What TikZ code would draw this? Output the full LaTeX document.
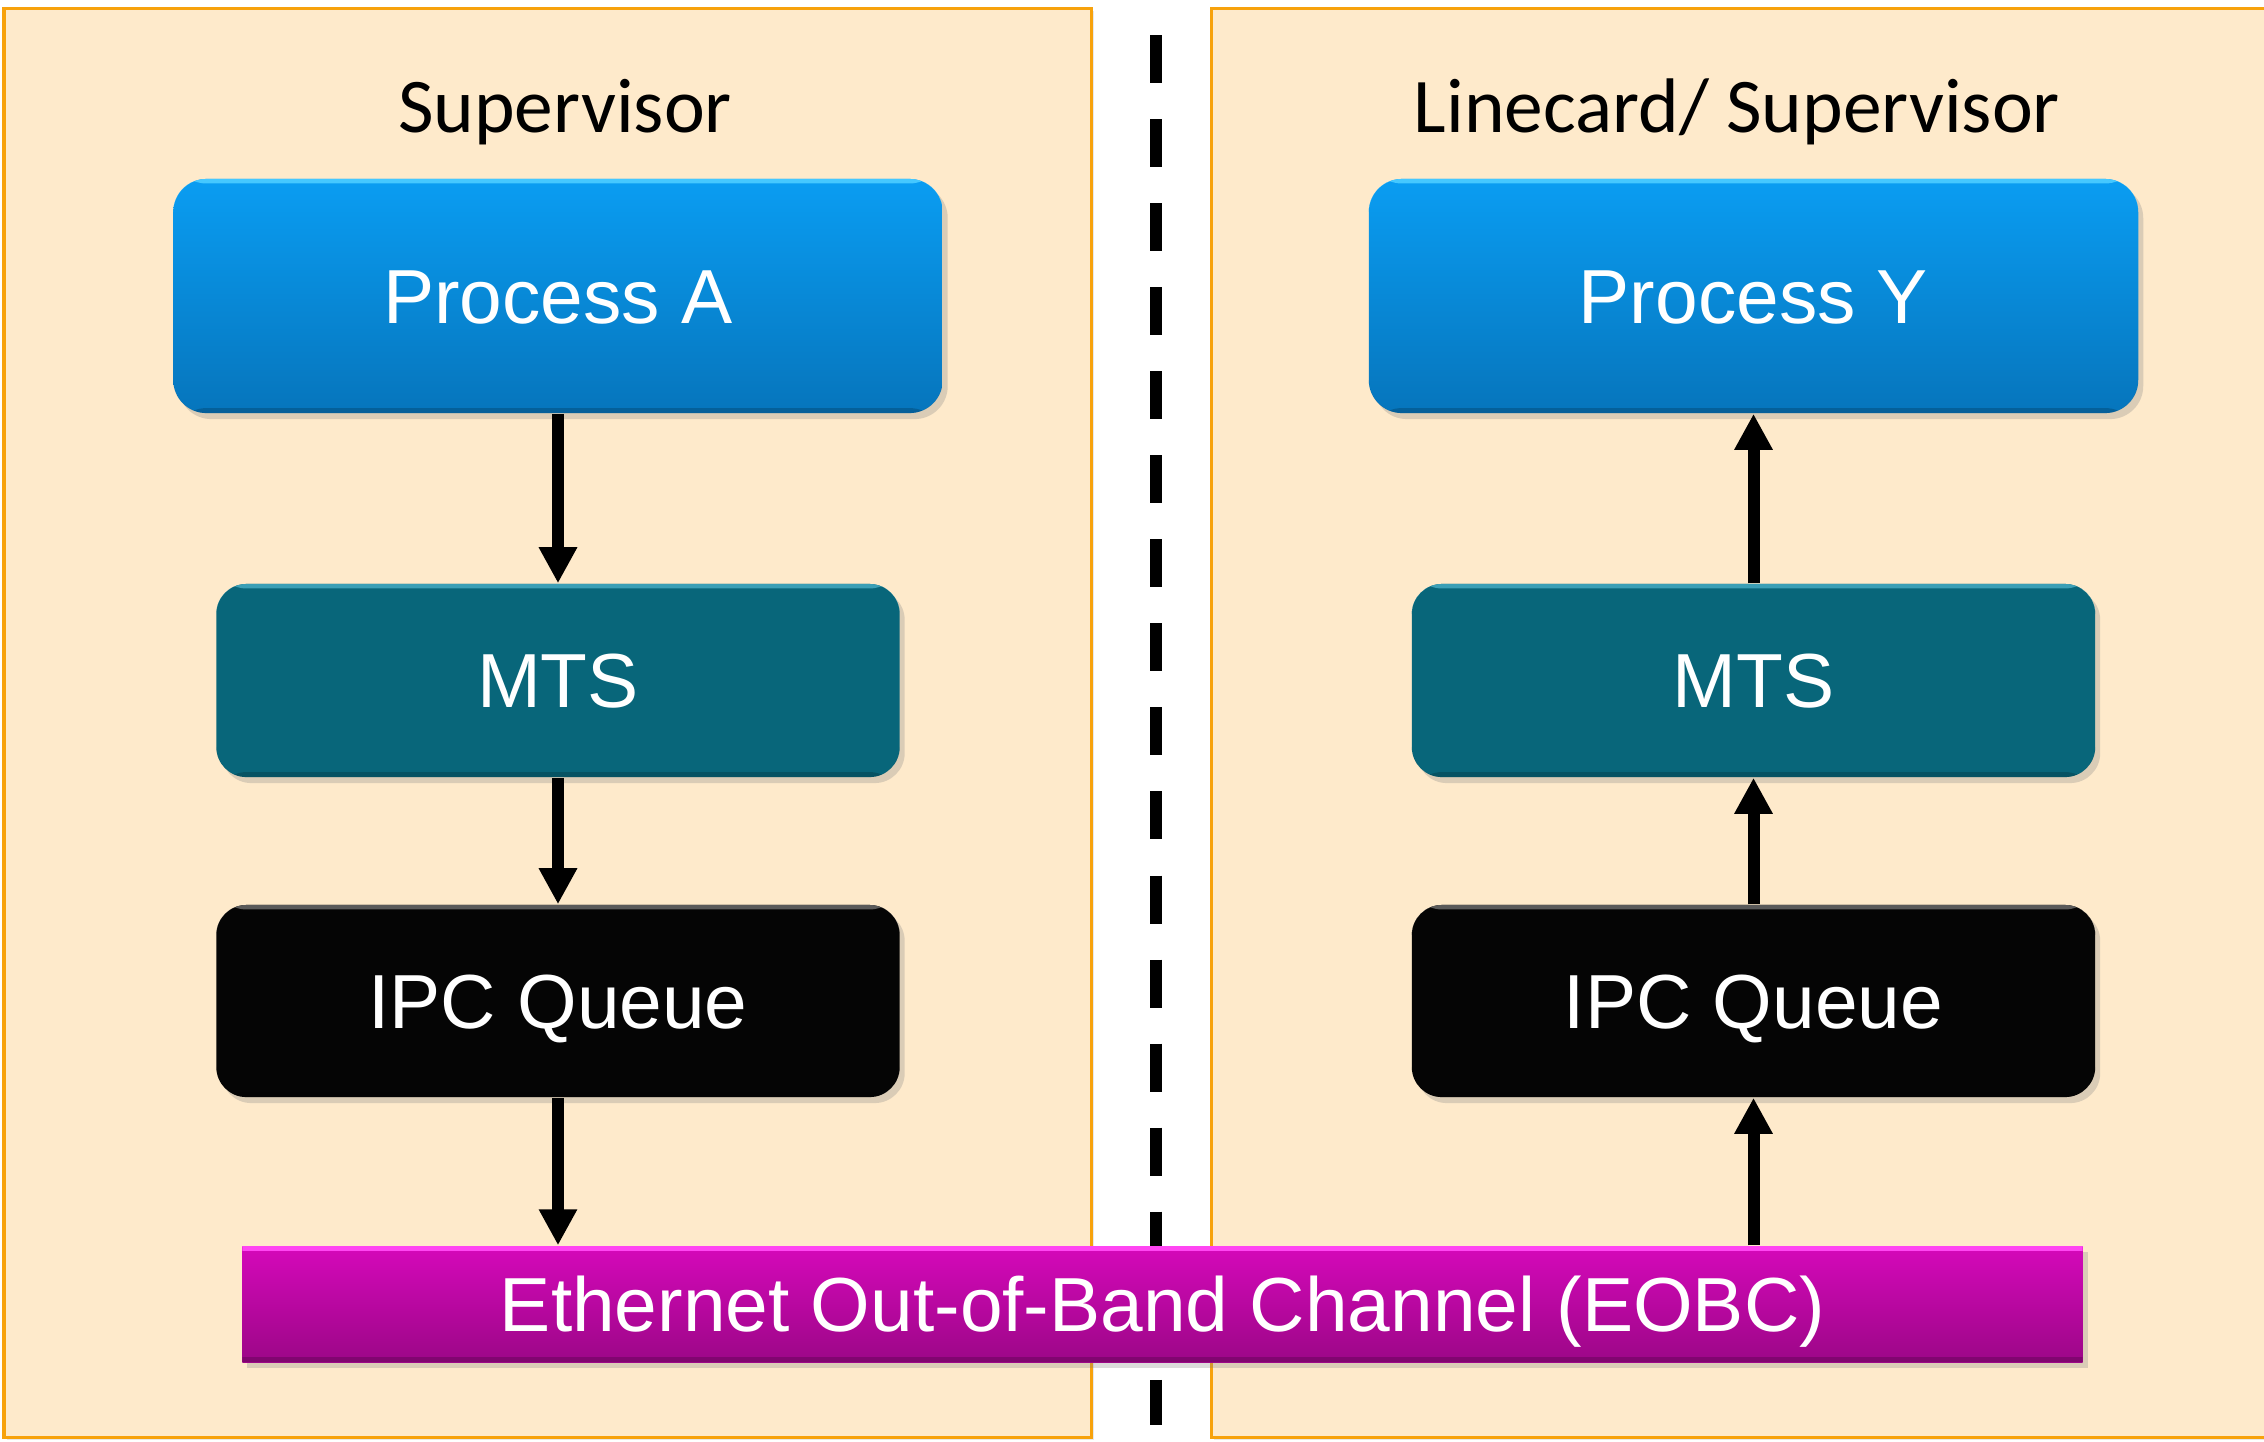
\documentclass[tikz,border=0pt]{standalone}
\usepackage{fontspec}
\setmainfont{Liberation Sans}
\newfontfamily\titlefont{Carlito}
\usetikzlibrary{arrows.meta,shadows}

\definecolor{panelfill}{HTML}{FEEACB}
\definecolor{panelline}{HTML}{F7A20C}
\definecolor{procTop}{HTML}{0A9DF2}
\definecolor{procBot}{HTML}{0675BC}
\definecolor{procHi}{HTML}{45C8FF}
\definecolor{mtsFill}{HTML}{08667A}
\definecolor{mtsHi}{HTML}{3B9FB6}
\definecolor{ipcFill}{HTML}{050505}
\definecolor{ipcHi}{HTML}{5A5A5A}
\definecolor{eobcTop}{HTML}{D508BA}
\definecolor{eobcBot}{HTML}{9C0787}
\definecolor{eobcHi}{HTML}{FF45F2}

\tikzset{
  panel/.style={fill=panelfill, draw=panelline, line width=0.03cm,
    drop shadow={opacity=0.18, shadow xshift=0.03cm, shadow yshift=-0.03cm}},
  boxshadow/.style={drop shadow={opacity=0.28, shadow xshift=0.05cm, shadow yshift=-0.06cm}},
  hilite/.style={path picture={
      \fill[#1] (path picture bounding box.north west) rectangle
        ([yshift=-0.045cm]path picture bounding box.north east);
      \fill[black, opacity=0.18] (path picture bounding box.south west) rectangle
        ([yshift=0.05cm]path picture bounding box.south east);}},
  % caps are centred vertically: text height = cap height of the box font
  boxtext/.style={text=white, font=\fontsize{21.8}{26}\selectfont,
    text height=15.6pt, text depth=0pt},
  procbox/.style={rounded corners=0.33cm, minimum width=7.69cm, minimum height=2.34cm,
    top color=procTop, bottom color=procBot, boxshadow, hilite=procHi, boxtext},
  mtsbox/.style={rounded corners=0.3cm, minimum width=6.83cm, minimum height=1.93cm,
    fill=mtsFill, boxshadow, hilite=mtsHi, boxtext},
  ipcbox/.style={rounded corners=0.3cm, minimum width=6.83cm, minimum height=1.92cm,
    fill=ipcFill, boxshadow, hilite=ipcHi, boxtext},
  eobcbox/.style={minimum width=18.39cm, minimum height=1.16cm,
    top color=eobcTop, bottom color=eobcBot, boxshadow, hilite=eobcHi, boxtext},
  title/.style={font=\titlefont\fontsize{22}{26}\selectfont},
  flow/.style={line width=0.12cm, -{Triangle[width=0.36cm, length=0.36cm]}},
  divider/.style={line width=0.12cm, dash pattern=on 0.48cm off 0.36cm}
}

\begin{document}
\begin{tikzpicture}[x=0.01cm, y=-0.01cm]
  \useasboundingbox (0,0) rectangle (2264,1441);
  \fill[white] (0,0) rectangle (2264,1441);

  % two side panels (the right one runs off the page edge)
  \path[panel] (4,8) rectangle (1091,1437);
  \begin{scope}
    \clip (0,0) rectangle (2264,1441);
    \path[panel] (1211,8) rectangle (2280,1437);
  \end{scope}

  % dashed divider between the panels
  \coordinate (divtop) at (1156,35);
  \coordinate (divbot) at (1156,1425);
  \draw[divider] (divtop) -- (divbot);

  % panel titles
  \node[title] (tsup) at (565,112) {Supervisor};
  \node[title] (tlc) at (1737,112) {Linecard/ Supervisor};

  % left stack
  \node[procbox] (pa) at (558,296) {Process A};
  \node[mtsbox] (mtsl) at (558,680.5) {MTS};
  \node[ipcbox] (ipcl) at (558,1001) {IPC Queue};

  % right stack
  \node[procbox] (py) at (1753.5,296) {Process Y};
  \node[mtsbox] (mtsr) at (1753.5,680.5) {MTS};
  \node[ipcbox] (ipcr) at (1753.5,1001) {IPC Queue};

  % shared channel
  \node[eobcbox] (eobc) at (1162.5,1304) {Ethernet Out-of-Band Channel (EOBC)};

  % message flow
  \draw[flow] (pa.south) -- (mtsl.north);
  \draw[flow] (mtsl.south) -- (ipcl.north);
  \draw[flow] (ipcl.south) -- (ipcl.south |- eobc.north);
  \draw[flow] (ipcr.south |- eobc.north) -- (ipcr.south);
  \draw[flow] (mtsr.south |- ipcr.north) -- (mtsr.south);
  \draw[flow] (mtsr.north) -- (py.south);
\end{tikzpicture}
\end{document}
